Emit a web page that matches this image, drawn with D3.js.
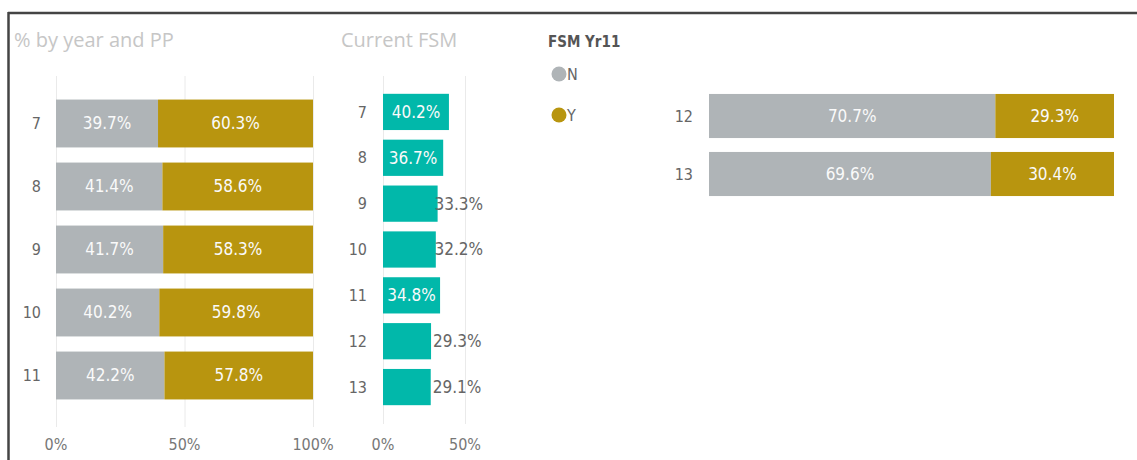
<!DOCTYPE html>
<html lang="en">
<head>
    <meta charset="UTF-8">
    <title>FSM</title>
    <script src="https://d3js.org/d3.v7.min.js"></script>
    <style>
        body { margin: 0; background: #fff; }
        text { font-family: "DejaVu Sans Condensed", "DejaVu Sans", sans-serif; }
        .title { font-family: "Open Sans", sans-serif; font-size: 20px; fill: #c6c6c6; }
        .cat { font-size: 16px; fill: #666; }
        .tick-lbl { font-size: 16px; fill: #777; }
        .lbl-in { font-size: 17px; fill: #fafafa; }
        .lbl-out { font-size: 17px; fill: #666; }
    </style>
</head>
<body>
    <svg width="1137" height="460" id="mainsvg"></svg>
    <script>
        // % by year and PP
        const years = ["7", "8", "9", "10", "11"]
        const pctN = [39.7, 41.4, 41.7, 40.2, 42.2]
        const pctY = [60.3, 58.6, 58.3, 59.8, 57.8]
        // Current FSM
        const fsmYears = ["7", "8", "9", "10", "11", "12", "13"]
        const fsmPct = [40.2, 36.7, 33.3, 32.2, 34.8, 29.3, 29.1]
        // FSM Yr11 for years 12, 13
        const upperYears = ["12", "13"]
        const upperN = [70.7, 69.6]
        const upperY = [29.3, 30.4]
        const pctTicks = [0, 50, 100]
        const fsmTicks = [0, 50]
        const legendKeys = ["N", "Y"]

        const colN = "#afb4b7", colY = "#b8950f", colTeal = "#01b8aa"
        const fmt = v => v.toFixed(1) + "%"

        const svg = d3.select("#mainsvg")

        // frame
        svg.append("line").attr("x1", 8).attr("x2", 1137).attr("y1", 13).attr("y2", 13)
            .attr("stroke", "#444").attr("stroke-width", 2.5)
        svg.append("line").attr("x1", 8.5).attr("x2", 8.5).attr("y1", 12).attr("y2", 460)
            .attr("stroke", "#444").attr("stroke-width", 2.5)

        // ---------- left chart ----------
        svg.append("text").attr("class", "title").attr("x", 14).attr("y", 47).text("% by year and PP")

        const xL = d3.scaleLinear().domain([0, 100]).range([56, 313])
        const yL = d3.scaleBand().domain(years).range([92, 407]).paddingInner(0.24).paddingOuter(0.12)

        const gL = svg.append("g")
        gL.selectAll(".grid").data(pctTicks).join("line")
            .attr("x1", d => xL(d) + 0.5).attr("x2", d => xL(d) + 0.5)
            .attr("y1", 76).attr("y2", 427).attr("stroke", "#eaeaea")
        gL.selectAll(".tl").data(pctTicks).join("text").attr("class", "tick-lbl")
            .attr("x", d => xL(d)).attr("y", 450).attr("text-anchor", "middle").text(d => d + "%")

        const rowsL = years.map((y, i) => ({ y, n: pctN[i], v: pctY[i] }))
        gL.selectAll(".bn").data(rowsL).join("rect")
            .attr("x", xL(0)).attr("y", d => yL(d.y)).attr("width", d => xL(d.n) - xL(0))
            .attr("height", yL.bandwidth()).attr("fill", colN)
        gL.selectAll(".by").data(rowsL).join("rect")
            .attr("x", d => xL(d.n)).attr("y", d => yL(d.y)).attr("width", d => xL(d.n + d.v) - xL(d.n))
            .attr("height", yL.bandwidth()).attr("fill", colY)
        gL.selectAll(".ln").data(rowsL).join("text").attr("class", "lbl-in")
            .attr("x", d => (xL(0) + xL(d.n)) / 2).attr("y", d => yL(d.y) + yL.bandwidth() / 2)
            .attr("dy", "0.35em").attr("text-anchor", "middle").text(d => fmt(d.n))
        gL.selectAll(".ly").data(rowsL).join("text").attr("class", "lbl-in")
            .attr("x", d => (xL(d.n) + xL(d.n + d.v)) / 2).attr("y", d => yL(d.y) + yL.bandwidth() / 2)
            .attr("dy", "0.35em").attr("text-anchor", "middle").text(d => fmt(d.v))
        gL.selectAll(".cl").data(years).join("text").attr("class", "cat")
            .attr("x", 41).attr("y", d => yL(d) + yL.bandwidth() / 2).attr("dy", "0.35em")
            .attr("text-anchor", "end").text(d => d)

        // ---------- middle chart ----------
        svg.append("text").attr("class", "title").attr("x", 341).attr("y", 47).text("Current FSM")

        const xM = d3.scaleLinear().domain([0, 50]).range([383, 465])
        const yM = d3.scaleBand().domain(fsmYears).range([89, 410]).paddingInner(0.21).paddingOuter(0.105)
        const plotRight = xM(50) + 18

        const gM = svg.append("g")
        gM.selectAll(".grid").data(fsmTicks).join("line")
            .attr("x1", d => xM(d) + 0.5).attr("x2", d => xM(d) + 0.5)
            .attr("y1", 76).attr("y2", 424).attr("stroke", "#eaeaea")
        gM.selectAll(".tl").data(fsmTicks).join("text").attr("class", "tick-lbl")
            .attr("x", d => xM(d)).attr("y", 450).attr("text-anchor", "middle").text(d => d + "%")

        const rowsM = fsmYears.map((y, i) => ({ y, v: fsmPct[i] }))
        gM.selectAll(".b").data(rowsM).join("rect")
            .attr("x", xM(0)).attr("y", d => yM(d.y)).attr("width", d => xM(d.v) - xM(0))
            .attr("height", yM.bandwidth()).attr("fill", colTeal)
        const fits = d => d.v >= 34
        gM.selectAll(".l").data(rowsM).join("text")
            .attr("class", d => fits(d) ? "lbl-in" : "lbl-out")
            .attr("y", d => yM(d.y) + yM.bandwidth() / 2)
            .attr("dy", "0.35em").attr("text-anchor", d => fits(d) ? "middle" : "start")
            .text(d => fmt(d.v))
            .attr("x", function (d) {
                if (fits(d)) return (xM(0) + xM(d.v)) / 2
                // outside labels are kept inside the plot area
                return Math.min(xM(d.v) + 2, plotRight - this.getComputedTextLength())
            })
        gM.selectAll(".cl").data(fsmYears).join("text").attr("class", "cat")
            .attr("x", 367).attr("y", d => yM(d) + yM.bandwidth() / 2).attr("dy", "0.35em")
            .attr("text-anchor", "end").text(d => d)

        // ---------- legend ----------
        svg.append("text").attr("x", 548).attr("y", 47)
            .attr("font-size", 15).attr("font-weight", "bold").attr("fill", "#555").text("FSM Yr11")
        const yLeg = d3.scalePoint().domain(legendKeys).range([74, 115])
        const cLeg = d3.scaleOrdinal().domain(legendKeys).range([colN, colY])
        svg.selectAll(".lc").data(legendKeys).join("circle")
            .attr("cx", 559).attr("cy", d => yLeg(d)).attr("r", 7.5).attr("fill", d => cLeg(d))
        svg.selectAll(".lt").data(legendKeys).join("text")
            .attr("x", 567).attr("y", d => yLeg(d)).attr("dy", "0.35em")
            .attr("font-size", 16).attr("fill", "#666").text(d => d)

        // ---------- right chart ----------
        const xR = d3.scaleLinear().domain([0, 100]).range([709, 1114])
        const yR = d3.scaleBand().domain(upperYears).range([87, 203]).paddingInner(0.24).paddingOuter(0.12)
        const rowsR = upperYears.map((y, i) => ({ y, n: upperN[i], v: upperY[i] }))
        const gR = svg.append("g")
        gR.selectAll(".bn").data(rowsR).join("rect")
            .attr("x", xR(0)).attr("y", d => yR(d.y)).attr("width", d => xR(d.n) - xR(0))
            .attr("height", yR.bandwidth()).attr("fill", colN)
        gR.selectAll(".by").data(rowsR).join("rect")
            .attr("x", d => xR(d.n)).attr("y", d => yR(d.y)).attr("width", d => xR(d.n + d.v) - xR(d.n))
            .attr("height", yR.bandwidth()).attr("fill", colY)
        gR.selectAll(".ln").data(rowsR).join("text").attr("class", "lbl-in")
            .attr("x", d => (xR(0) + xR(d.n)) / 2).attr("y", d => yR(d.y) + yR.bandwidth() / 2)
            .attr("dy", "0.35em").attr("text-anchor", "middle").text(d => fmt(d.n))
        gR.selectAll(".ly").data(rowsR).join("text").attr("class", "lbl-in")
            .attr("x", d => (xR(d.n) + xR(d.n + d.v)) / 2).attr("y", d => yR(d.y) + yR.bandwidth() / 2)
            .attr("dy", "0.35em").attr("text-anchor", "middle").text(d => fmt(d.v))
        gR.selectAll(".cl").data(upperYears).join("text").attr("class", "cat")
            .attr("x", 693).attr("y", d => yR(d) + yR.bandwidth() / 2).attr("dy", "0.35em")
            .attr("text-anchor", "end").text(d => d)
    </script>
</body>
</html>
